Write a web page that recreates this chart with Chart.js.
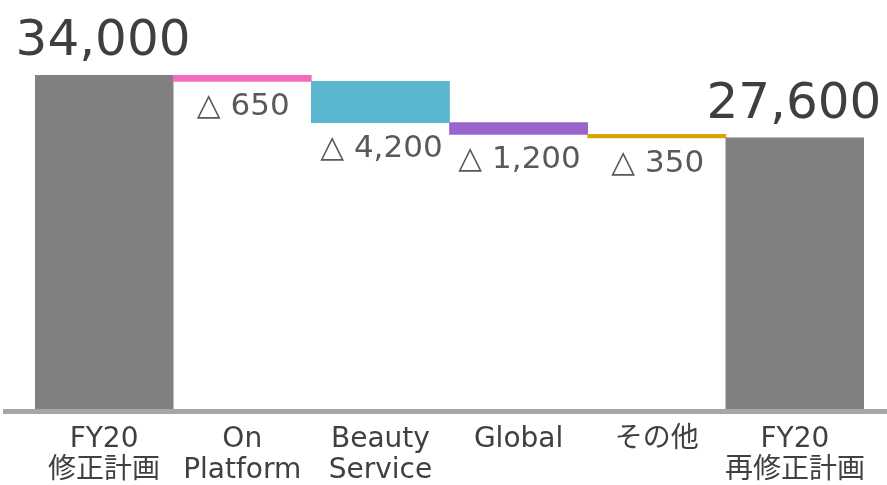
<!DOCTYPE html>
<html>
<head>
<meta charset="utf-8">
<script src="https://cdn.jsdelivr.net/npm/chart.js@4"></script>
<style>
  html, body { margin: 0; padding: 0; background: #ffffff; }
  #wrap { width: 887px; height: 485px; }
</style>
</head>
<body>
<div id="wrap"><canvas id="chart" width="887" height="485"></canvas></div>
<script>
// waterfall data (JPY mn)
const categories = [
  ['FY20', '修正計画'],
  ['On', 'Platform'],
  ['Beauty', 'Service'],
  ['Global'],
  ['その他'],
  ['FY20', '再修正計画']
];
const startTotal = 34000;
const changes = [-650, -4200, -1200, -350];
const endTotal = 27600;
const barColors = ['#808080', '#f46bbe', '#5bb6cf', '#9964cc', '#d3a600', '#808080'];

const FONT = '"DejaVu Sans", "Noto Sans CJK JP", sans-serif';

// build floating bars [from, to]
const floating = [[0, startTotal]];
let running = startTotal;
changes.forEach(c => {
  floating.push([running, running + c]);
  running += c;
});
floating.push([0, endTotal]);

/**
 * Draws the axis line and the value labels
 */
const waterfallLabels = {
  id: 'waterfallLabels',
  afterDatasetsDraw(chart) {
    const ctx = chart.ctx;
    const yScale = chart.scales.y;
    const zeroY = yScale.getPixelForValue(0);

    ctx.save();
    ctx.strokeStyle = '#a6a6a6';
    ctx.lineWidth = 5;
    ctx.beginPath();
    ctx.moveTo(3, zeroY + 2.5);
    ctx.lineTo(chart.width, zeroY + 2.5);
    ctx.stroke();

    const meta = chart.getDatasetMeta(0);
    ctx.textAlign = 'center';
    ctx.textBaseline = 'alphabetic';
    meta.data.forEach((bar, i) => {
      const top = Math.min(bar.y, bar.base);
      const bottom = Math.max(bar.y, bar.base);
      if (i === 0 || i === meta.data.length - 1) {
        const v = floating[i][1];
        ctx.fillStyle = '#3f3f3f';
        ctx.font = '50px ' + FONT;
        ctx.fillText(v.toLocaleString('en-US'), bar.x - 1, top - 20);
      } else {
        const v = Math.abs(changes[i - 1]);
        ctx.fillStyle = '#595959';
        ctx.font = '31px ' + FONT;
        ctx.fillText('△ ' + v.toLocaleString('en-US'), bar.x + 1, bottom + 34);
      }
    });
    ctx.restore();
  }
};

new Chart(document.getElementById('chart'), {
  type: 'bar',
  data: {
    labels: categories,
    datasets: [{
      data: floating,
      backgroundColor: barColors,
      borderWidth: 0,
      barPercentage: 1,
      categoryPercentage: 1
    }]
  },
  options: {
    responsive: false,
    animation: false,
    layout: {
      // tick padding is counted twice by the axis fit, so pull the bottom back
      padding: { top: 75, left: 35, right: 23, bottom: -16 }
    },
    plugins: {
      legend: { display: false },
      tooltip: { enabled: false }
    },
    scales: {
      x: {
        grid: { display: false, drawTicks: false },
        border: { display: false },
        ticks: {
          color: '#404040',
          padding: 15,
          maxRotation: 0,
          minRotation: 0,
          autoSkip: false,
          font: { family: FONT, size: 28, lineHeight: 31 / 28 }
        }
      },
      y: {
        display: false,
        min: 0,
        max: 34000
      }
    }
  },
  plugins: [waterfallLabels]
});
</script>
</body>
</html>
